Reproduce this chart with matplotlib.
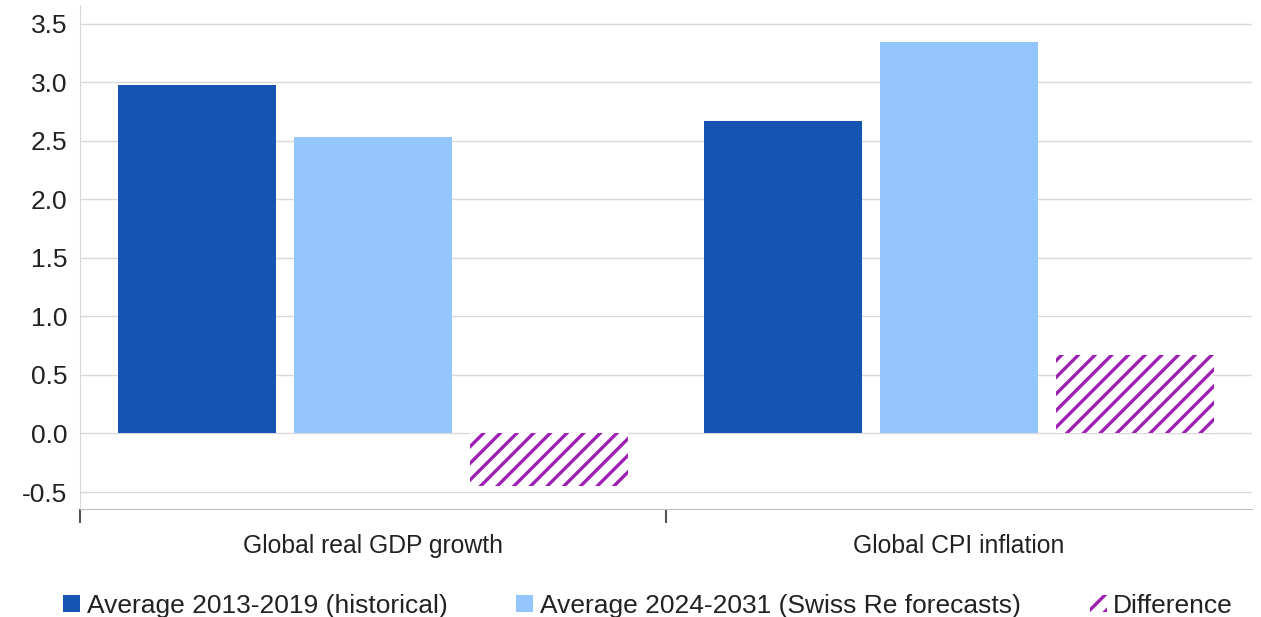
import matplotlib.pyplot as plt
import numpy as np
from matplotlib.patches import Patch

categories = ['Global real GDP growth', 'Global CPI inflation']
hist = [2.98, 2.67]
forecast = [2.53, 3.34]
diff = [-0.45, 0.67]
series_labels = ['Average 2013-2019 (historical)',
                 'Average 2024-2031 (Swiss Re forecasts)',
                 'Difference']
yticks = [-0.5, 0.0, 0.5, 1.0, 1.5, 2.0, 2.5, 3.0, 3.5]

dark_blue = '#1654B4'
light_blue = '#94C5FD'
purple = '#9E1FB4'

plt.rcParams['font.family'] = ['Liberation Sans', 'DejaVu Sans']
plt.rcParams['hatch.color'] = purple
plt.rcParams['hatch.linewidth'] = 2.4

fig = plt.figure(figsize=(12.61, 6.17), dpi=100)
ax = fig.add_axes([0.0634, 0.175, 0.9295, 0.817])

x = np.arange(len(categories))
w = 0.27
step = 0.30
ax.bar(x - step, hist, w, color=dark_blue, zorder=3)
ax.bar(x, forecast, w, color=light_blue, zorder=3)
ax.bar(x + step, diff, w, facecolor='white', edgecolor=purple, hatch='//',
       linewidth=0, zorder=3)

ax.set_xlim(-0.5, 1.5)
ax.set_ylim(-0.645, 3.66)
ax.set_yticks(yticks)
ax.set_yticklabels([f'{v:.1f}' for v in yticks], fontsize=19, color='#222222')
ax.tick_params(axis='y', length=0, pad=9)
ax.yaxis.grid(True, color='#d9d9d9', linewidth=1, zorder=0)

ax.set_xticks(x)
ax.set_xticklabels(categories, fontsize=17.8, color='#222222')
ax.set_xticks([-0.5, 0.5], minor=True)
ax.tick_params(axis='x', which='major', length=0, pad=18)
ax.tick_params(axis='x', which='minor', length=10, width=1.5, color='#555555')

for s in ['top', 'right']:
    ax.spines[s].set_visible(False)
ax.spines['left'].set_color('#d9d9d9')
ax.spines['bottom'].set_color('#bfbfbf')

handles = [Patch(facecolor=dark_blue),
           Patch(facecolor=light_blue),
           Patch(facecolor='white', edgecolor=purple, hatch='//', linewidth=0)]
fig.legend(handles, series_labels, loc='lower center', ncol=3, frameon=False,
           fontsize=19, bbox_to_anchor=(0.514, -0.04), handlelength=0.65,
           handleheight=0.65, handletextpad=0.25, columnspacing=2.6,
           labelcolor='#222222')

fig.savefig('out.png', dpi=100)
